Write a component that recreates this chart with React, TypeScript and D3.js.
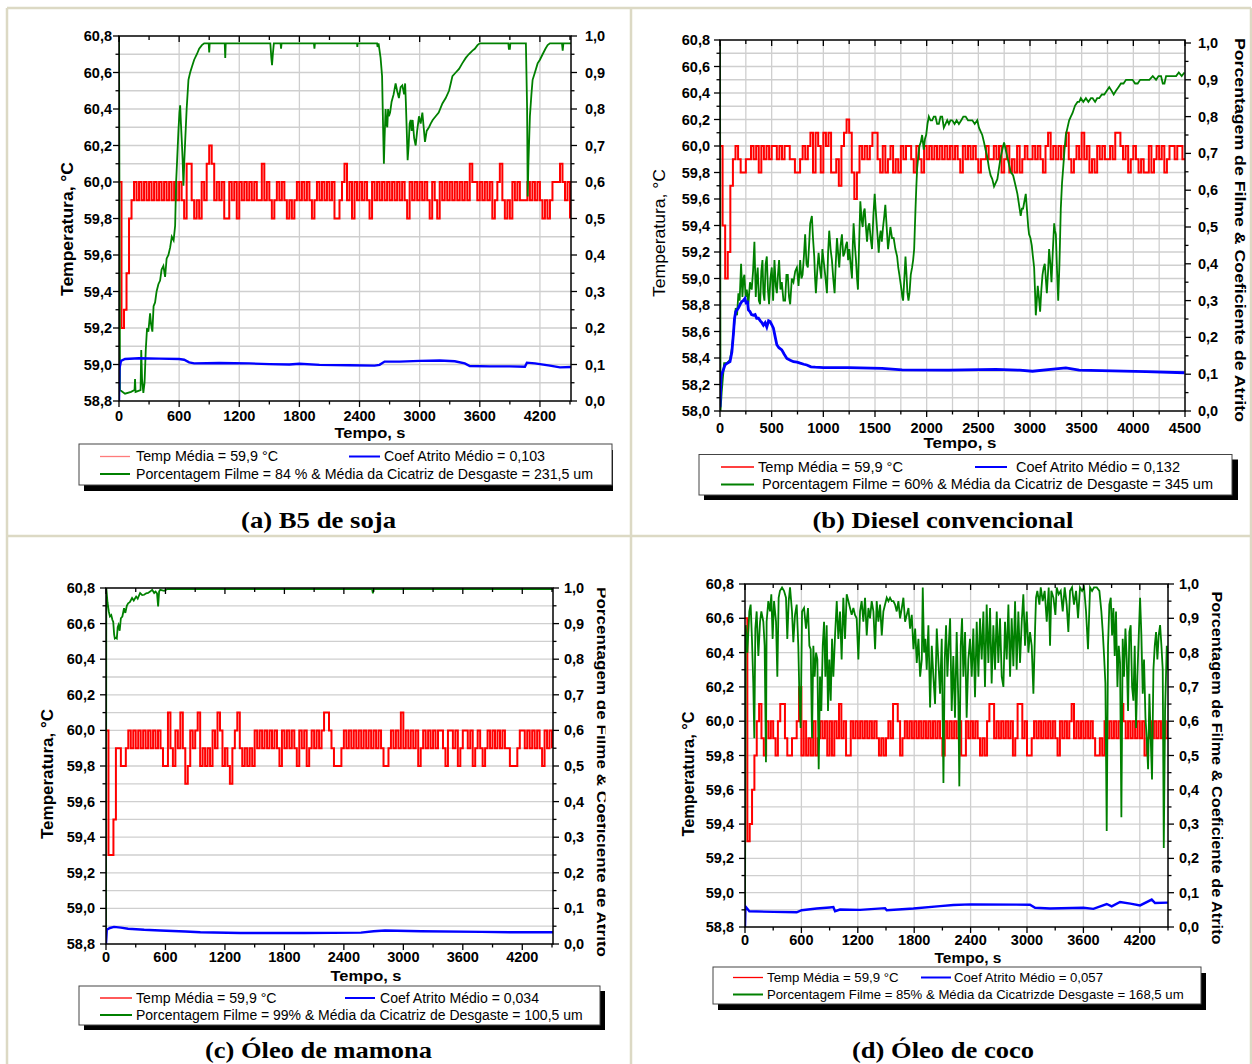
import React from "react";
import * as d3 from "d3";

// temperatura registrada a cada 25 s
const STEP = 25;

const tempA = [
  60, 59.2, 59.3, 59.5, 59.8, 59.9,
  60, 59.9, 60, 59.9, 60, 59.9, 60, 59.9, 60, 59.9, 60, 59.9, 60, 59.9, 60, 59.9, 60,
  59.9, 60, 59.9, 59.8, 60.1, 60.1, 59.9, 59.8, 59.9, 59.8, 60, 59.9, 60.1, 60.2, 60.1, 59.9, 60, 59.9,
  60, 59.8, 59.8, 60, 59.9, 60, 59.8, 60, 59.9, 60, 59.9, 60, 59.9, 60, 59.9, 59.9, 60.1, 59.9, 60, 59.9,
  59.8, 59.9, 60, 59.9, 60, 59.9, 59.8, 59.9, 59.8, 59.9, 60, 59.9, 60, 59.9, 60, 59.9, 59.8, 59.9, 60, 59.9,
  60, 59.9, 60, 59.9, 60, 59.8, 59.8, 59.9, 60, 60.1, 59.9, 60, 59.8, 60, 59.9, 60, 59.9, 60, 59.9, 59.8,
  60, 59.9, 60, 59.9, 60, 59.9, 60, 59.9, 60, 59.9, 60, 59.9, 60, 59.9, 59.8, 60, 59.9, 60, 59.9, 60,
  59.9, 60, 59.9, 59.8, 60, 59.9, 59.8, 60, 59.9, 60, 59.9, 60, 59.9, 60, 59.9, 60, 59.9, 60, 59.9, 60.1,
  60, 60, 59.9, 60, 59.9, 60, 59.9, 60, 59.8, 59.9, 60, 60.1, 59.9, 59.8, 59.9, 59.8, 60, 59.9, 60, 59.9,
  59.9, 59.9, 60, 59.9, 60, 59.9, 60, 59.9, 59.8, 59.9, 59.8, 59.9, 60, 60, 60, 60.1, 60, 59.9, 60, 59.8,
];

const tempB = [
  60, 59.4, 59, 59.2, 59.7, 59.9, 60, 59.9, 59.8, 59.8, 59.9, 59.9, 60, 59.9, 60, 59.8, 60, 59.9, 60, 59.9, 60,
  60, 59.9, 60, 59.9, 60, 60, 59.9, 59.9, 59.8, 59.8, 59.9, 60, 59.9, 60, 60.1, 59.8, 60.1, 60, 59.8, 60.1,
  60, 60.1, 59.8, 59.8, 59.9, 59.7, 60, 60.1, 60.2, 60.1, 59.8, 59.6, 59.8, 60, 59.9, 60, 59.9, 60, 60.1, 60.1,
  59.9, 59.8, 60, 59.8, 59.9, 60, 59.8, 59.9, 59.8, 60, 59.9, 60, 60, 59.9, 59.8, 60, 59.9, 59.8, 60, 59.9,
  60, 59.9, 60, 59.9, 60, 59.9, 60, 59.9, 60, 59.9, 60, 59.9, 59.8, 60, 59.9, 60, 59.9, 60, 59.9, 59.8,
  59.9, 59.9, 60, 59.9, 59.9, 60, 59.9, 60, 59.8, 59.9, 60, 59.8, 59.9, 59.8, 60, 59.8, 59.9, 60, 59.9, 59.9,
  60, 59.9, 60, 59.9, 59.8, 60, 60.1, 59.9, 60, 59.9, 60, 59.9, 60, 60.1, 59.9, 59.8, 59.9, 60, 59.9, 60.1,
  59.9, 60, 59.8, 59.9, 59.8, 60, 59.9, 60, 59.9, 59.9, 60, 59.9, 60.1, 60.1, 60, 59.9, 60, 59.8, 59.9, 60,
  59.9, 59.8, 59.9, 59.8, 59.8, 60, 59.8, 59.9, 60, 59.9, 60, 59.8, 59.9, 60, 60, 59.9, 60, 60, 59.9, 59.9,
];

const tempC = [
  60, 59.3, 59.3, 59.5, 59.9, 59.9, 59.8, 59.8, 59.9, 60, 59.9, 60, 59.9, 60, 59.9, 60, 59.9, 60, 59.9, 60, 59.9,
  60, 59.9, 59.8, 59.8, 60.1, 59.9, 59.8, 60, 59.9, 60.1, 59.9, 59.7, 59.8, 60, 59.9, 60, 60.1, 59.8, 59.9, 59.8,
  59.9, 59.8, 60, 59.9, 60.1, 60, 59.8, 59.9, 59.8, 59.7, 59.9, 60, 60.1, 59.9, 59.8, 59.9, 59.8, 59.9, 59.8, 60,
  59.9, 60, 59.9, 60, 59.9, 60, 59.9, 60, 59.9, 59.8, 60, 59.9, 60, 59.9, 60, 59.9, 59.8, 60, 59.9, 60,
  59.8, 59.9, 60, 59.9, 60, 59.9, 60, 60.1, 60.1, 60, 59.9, 59.8, 59.8, 59.8, 59.9, 60, 59.9, 60, 59.9, 60,
  59.9, 60, 59.9, 60, 59.9, 60, 59.9, 60, 59.9, 60, 59.9, 59.8, 59.8, 59.9, 60, 59.9, 60, 59.9, 60.1, 59.9,
  60, 59.9, 60, 59.9, 60, 59.8, 59.9, 60, 59.9, 60, 59.9, 60, 59.9, 60, 60, 59.9, 59.8, 60, 60, 59.9,
  60, 59.8, 59.9, 60, 60, 59.9, 60, 59.8, 59.9, 60, 59.9, 59.8, 59.9, 60, 59.9, 60, 59.9, 60, 59.9, 60,
  59.9, 59.9, 59.8, 59.8, 59.8, 59.9, 60, 60, 59.9, 60, 59.9, 60, 59.9, 60, 59.9, 59.8, 60, 59.9, 60, 59.9,
];

const tempD = [
  60.6, 59.3, 59.4, 59.6, 59.8, 60, 60.1, 59.9, 59.8, 60, 59.9, 60, 59.9, 59.8, 60, 60.1, 60.1, 59.9, 59.8, 59.8, 59.9,
  59.9, 60, 60.2, 59.8, 60, 59.8, 59.9, 59.8, 60, 59.8, 59.9, 60, 59.9, 60, 59.8, 60, 59.8, 60, 59.9, 60.1,
  59.9, 60, 59.8, 59.8, 60, 59.9, 60, 59.9, 60, 59.9, 60, 59.9, 60, 59.9, 60, 59.9, 59.8, 59.9, 59.8, 59.9,
  60, 59.9, 60.1, 60.1, 60, 59.8, 59.9, 60, 59.9, 60, 59.9, 60, 59.9, 60, 59.9, 60, 59.9, 60, 59.9, 60,
  59.9, 60, 59.9, 59.8, 60, 59.9, 60, 59.9, 60, 59.9, 60, 59.8, 59.8, 60, 59.9, 60, 59.9, 60, 59.9, 59.8,
  59.9, 59.8, 60, 60.1, 60.1, 59.9, 60, 59.9, 60, 59.9, 60, 59.9, 60, 59.8, 59.9, 60.1, 60.1, 59.9, 60, 59.8,
  59.8, 59.9, 60, 59.9, 60, 59.9, 60, 59.9, 60, 59.9, 60, 59.9, 59.8, 60, 59.9, 60, 59.9, 60, 60.1, 59.9,
  60, 59.9, 60, 59.9, 60, 59.9, 60, 59.9, 59.8, 59.8, 59.9, 59.8, 60, 59.9, 60, 59.9, 60, 59.9, 60, 60.1,
  60, 59.9, 60, 59.9, 60, 59.9, 60, 59.9, 60, 59.8, 59.9, 60, 59.9, 60, 59.9, 60, 59.9, 60, 59.9, 60,
];

// porcentagem de filme: [tempo s, fração]
const filmA = [
  [0, 1.0], [10, 0.03], [60, 0.02], [120, 0.025], [155, 0.03], [160, 0.06], [165, 0.025], [215, 0.03],
  [222, 0.14], [230, 0.06], [243, 0.022], [255, 0.05], [267, 0.14], [280, 0.2], [293, 0.19], [310, 0.24],
  [320, 0.21], [333, 0.19], [345, 0.26], [360, 0.27], [375, 0.3], [393, 0.32], [410, 0.33], [425, 0.36],
  [443, 0.37], [460, 0.34], [475, 0.39], [493, 0.4], [510, 0.42], [527, 0.45], [545, 0.44], [560, 0.48],
  [570, 0.6], [580, 0.66], [593, 0.74], [603, 0.79], [610, 0.81], [618, 0.76], [627, 0.71], [635, 0.66],
  [643, 0.59], [652, 0.66], [660, 0.71], [675, 0.8], [693, 0.88], [710, 0.9], [727, 0.915], [750, 0.935],
  [777, 0.95], [800, 0.965], [827, 0.975], [850, 0.98], [895, 0.98], [900, 0.955], [905, 0.98], [1055, 0.98],
  [1060, 0.94], [1065, 0.98], [1510, 0.98], [1520, 0.94], [1527, 0.92], [1535, 0.95], [1545, 0.98],
  [1612, 0.98], [1617, 0.965], [1622, 0.98], [1945, 0.98], [1950, 0.965], [1955, 0.98], [2375, 0.98],
  [2378, 0.97], [2381, 0.98], [2575, 0.98], [2580, 0.97], [2590, 0.98], [2600, 0.96], [2610, 0.94],
  [2625, 0.89], [2635, 0.75], [2643, 0.65], [2650, 0.72], [2660, 0.8], [2668, 0.76], [2677, 0.75],
  [2685, 0.8], [2693, 0.78], [2705, 0.79], [2720, 0.82], [2740, 0.84], [2760, 0.87], [2775, 0.85],
  [2793, 0.83], [2810, 0.86], [2827, 0.865], [2845, 0.84], [2855, 0.87], [2862, 0.82], [2870, 0.75],
  [2880, 0.66], [2890, 0.7], [2900, 0.76], [2910, 0.77], [2920, 0.74], [2930, 0.77], [2945, 0.72],
  [2960, 0.7], [2975, 0.74], [2993, 0.78], [3010, 0.76], [3027, 0.79], [3040, 0.75], [3053, 0.71],
  [3070, 0.74], [3093, 0.75], [3110, 0.76], [3130, 0.77], [3160, 0.78], [3190, 0.79], [3227, 0.815],
  [3260, 0.83], [3293, 0.85], [3310, 0.87], [3327, 0.89], [3360, 0.9], [3393, 0.91], [3425, 0.925],
  [3460, 0.94], [3490, 0.95], [3527, 0.96], [3550, 0.965], [3577, 0.975], [3600, 0.98], [3885, 0.98],
  [3890, 0.965], [3900, 0.965], [3905, 0.98], [4060, 0.98], [4072, 0.8], [4078, 0.56], [4085, 0.65],
  [4100, 0.78], [4115, 0.84], [4127, 0.88], [4150, 0.9], [4177, 0.925], [4200, 0.935], [4227, 0.95],
  [4255, 0.965], [4277, 0.975], [4300, 0.98], [4420, 0.98], [4427, 0.96], [4434, 0.98], [4510, 0.98],
];

const filmB = [
  [0, 1.0], [5, 0.0], [16, 0.05], [40, 0.13], [70, 0.13], [97, 0.14], [115, 0.17], [130, 0.21], [152, 0.28],
  [165, 0.26], [178, 0.32], [190, 0.3], [204, 0.4], [217, 0.31], [227, 0.36], [236, 0.37], [248, 0.31],
  [259, 0.33], [275, 0.29], [290, 0.35], [307, 0.33], [320, 0.38], [333, 0.46], [346, 0.31], [355, 0.36],
  [365, 0.39], [376, 0.3], [388, 0.29], [400, 0.38], [411, 0.41], [420, 0.32], [430, 0.3], [442, 0.4],
  [453, 0.42], [464, 0.33], [475, 0.29], [488, 0.36], [501, 0.39], [514, 0.3], [527, 0.41], [540, 0.34],
  [550, 0.32], [561, 0.37], [572, 0.41], [585, 0.33], [598, 0.35], [614, 0.3], [630, 0.3], [643, 0.37],
  [656, 0.37], [668, 0.31], [679, 0.29], [695, 0.36], [711, 0.35], [728, 0.38], [744, 0.39], [760, 0.34],
  [776, 0.41], [788, 0.36], [799, 0.37], [812, 0.42], [824, 0.48], [837, 0.4], [850, 0.39], [862, 0.45],
  [873, 0.51], [889, 0.53], [900, 0.47], [912, 0.42], [920, 0.36], [928, 0.32], [941, 0.38], [954, 0.43],
  [967, 0.39], [980, 0.36], [991, 0.44], [1002, 0.41], [1018, 0.37], [1035, 0.32], [1046, 0.43],
  [1057, 0.49], [1070, 0.44], [1083, 0.41], [1096, 0.36], [1109, 0.32], [1120, 0.4], [1132, 0.47],
  [1143, 0.43], [1154, 0.39], [1167, 0.45], [1180, 0.48], [1193, 0.42], [1206, 0.43], [1218, 0.45],
  [1229, 0.46], [1240, 0.41], [1251, 0.44], [1264, 0.4], [1277, 0.36], [1285, 0.45], [1293, 0.51],
  [1305, 0.45], [1316, 0.41], [1326, 0.36], [1335, 0.33], [1346, 0.45], [1358, 0.57], [1370, 0.52],
  [1381, 0.5], [1390, 0.54], [1400, 0.55], [1412, 0.5], [1423, 0.46], [1434, 0.5], [1445, 0.51],
  [1458, 0.47], [1471, 0.44], [1484, 0.53], [1497, 0.59], [1506, 0.55], [1516, 0.51], [1526, 0.47],
  [1536, 0.43], [1545, 0.47], [1555, 0.49], [1566, 0.46], [1578, 0.5], [1590, 0.53], [1600, 0.56],
  [1613, 0.5], [1626, 0.44], [1638, 0.47], [1649, 0.5], [1665, 0.47], [1681, 0.47], [1697, 0.44],
  [1714, 0.42], [1725, 0.39], [1736, 0.37], [1746, 0.35], [1756, 0.33], [1764, 0.31], [1772, 0.3],
  [1784, 0.36], [1795, 0.42], [1805, 0.37], [1814, 0.32], [1824, 0.3], [1834, 0.32], [1846, 0.37],
  [1859, 0.39], [1869, 0.41], [1879, 0.44], [1886, 0.5], [1892, 0.55], [1900, 0.61], [1908, 0.66],
  [1918, 0.69], [1930, 0.72], [1943, 0.73], [1956, 0.75], [1964, 0.73], [1972, 0.71], [1984, 0.74],
  [1995, 0.75], [2008, 0.78], [2021, 0.8], [2037, 0.79], [2053, 0.79], [2069, 0.8], [2085, 0.8],
  [2101, 0.78], [2118, 0.78], [2134, 0.8], [2150, 0.8], [2166, 0.77], [2183, 0.78], [2199, 0.79],
  [2215, 0.78], [2230, 0.79], [2248, 0.79], [2270, 0.78], [2290, 0.79], [2312, 0.78], [2335, 0.79],
  [2355, 0.8], [2377, 0.8], [2400, 0.79], [2420, 0.79], [2442, 0.79], [2465, 0.78], [2490, 0.79],
  [2506, 0.77], [2522, 0.76], [2538, 0.75], [2555, 0.73], [2570, 0.71], [2587, 0.69], [2603, 0.66],
  [2619, 0.64], [2635, 0.63], [2652, 0.61], [2668, 0.62], [2684, 0.63], [2700, 0.66], [2716, 0.69],
  [2732, 0.71], [2749, 0.73], [2765, 0.71], [2781, 0.69], [2797, 0.67], [2813, 0.65], [2837, 0.64],
  [2862, 0.61], [2878, 0.59], [2894, 0.56], [2910, 0.53], [2922, 0.55], [2933, 0.55], [2946, 0.57],
  [2959, 0.59], [2967, 0.56], [2975, 0.53], [2983, 0.5], [2991, 0.48], [3004, 0.47], [3017, 0.45],
  [3028, 0.42], [3040, 0.39], [3048, 0.33], [3056, 0.26], [3066, 0.3], [3075, 0.34], [3086, 0.31],
  [3098, 0.27], [3110, 0.33], [3121, 0.37], [3132, 0.39], [3143, 0.4], [3153, 0.36], [3163, 0.32],
  [3175, 0.38], [3185, 0.44], [3197, 0.4], [3208, 0.35], [3220, 0.43], [3234, 0.51], [3242, 0.49],
  [3250, 0.48], [3262, 0.38], [3273, 0.3], [3285, 0.4], [3298, 0.55], [3310, 0.62], [3321, 0.66],
  [3334, 0.71], [3347, 0.75], [3363, 0.77], [3379, 0.79], [3395, 0.8], [3412, 0.81], [3436, 0.83],
  [3460, 0.84], [3476, 0.84], [3492, 0.85], [3516, 0.84], [3541, 0.85], [3565, 0.84], [3590, 0.85],
  [3606, 0.85], [3630, 0.84], [3650, 0.85], [3670, 0.85], [3695, 0.86], [3719, 0.86], [3743, 0.87],
  [3767, 0.88], [3790, 0.87], [3810, 0.86], [3832, 0.87], [3856, 0.88], [3880, 0.89], [3905, 0.89],
  [3929, 0.9], [3960, 0.9], [3993, 0.9], [4017, 0.89], [4042, 0.89], [4066, 0.9], [4091, 0.9],
  [4123, 0.9], [4155, 0.9], [4188, 0.91], [4220, 0.9], [4244, 0.91], [4268, 0.91], [4285, 0.89],
  [4301, 0.89], [4317, 0.91], [4333, 0.91], [4360, 0.91], [4387, 0.91], [4414, 0.91], [4440, 0.92],
  [4468, 0.91], [4495, 0.92],
];

const filmC = [
  [0, 0], [3, 1.0], [15, 0.96], [28, 0.934], [40, 0.92], [53, 0.924], [65, 0.91], [73, 0.905], [82, 0.87],
  [89, 0.858], [100, 0.86], [109, 0.858], [118, 0.89], [126, 0.896], [138, 0.88], [150, 0.915], [165, 0.92],
  [182, 0.943], [195, 0.93], [210, 0.95], [223, 0.957], [240, 0.96], [263, 0.972], [280, 0.965],
  [304, 0.976], [320, 0.97], [344, 0.986], [365, 0.98], [385, 0.981], [405, 0.985], [425, 0.986],
  [445, 0.99], [466, 0.995], [486, 0.986], [500, 0.99], [515, 0.985], [526, 0.948], [536, 0.99],
  [547, 0.995], [587, 0.992], [620, 0.997], [668, 0.997], [2685, 0.997], [2693, 0.985], [2700, 0.997],
  [4510, 0.997],
];

const filmD = [
  [0, 0.02], [8, 0.88], [25, 0.8], [46, 0.92], [60, 0.94], [74, 0.84], [88, 0.71], [99, 0.55], [110, 0.87],
  [124, 0.92], [142, 0.79], [160, 0.89], [174, 0.92], [195, 0.89], [209, 0.82], [223, 0.48], [230, 0.89],
  [248, 0.95], [266, 0.92], [280, 0.97], [294, 0.84], [309, 0.95], [330, 0.89], [344, 0.73], [358, 0.96],
  [372, 0.98], [394, 0.99], [415, 0.98], [436, 0.96], [450, 0.84], [465, 0.95], [479, 0.99], [500, 0.92],
  [514, 0.83], [532, 0.91], [550, 0.94], [567, 0.82], [578, 0.68], [592, 0.58], [607, 0.92], [628, 0.93],
  [649, 0.87], [670, 0.93], [685, 0.82], [699, 0.81], [713, 0.55], [727, 0.82], [741, 0.73], [756, 0.8],
  [770, 0.78], [784, 0.46], [798, 0.73], [812, 0.63], [827, 0.82], [841, 0.89], [855, 0.73], [869, 0.88],
  [883, 0.63], [897, 0.78], [912, 0.66], [926, 0.84], [940, 0.73], [958, 0.85], [976, 0.95], [993, 0.84],
  [1011, 0.92], [1028, 0.78], [1046, 0.96], [1064, 0.84], [1082, 0.97], [1100, 0.95], [1117, 0.93],
  [1135, 0.91], [1153, 0.93], [1170, 0.91], [1188, 0.9], [1206, 0.78], [1224, 0.92], [1241, 0.95],
  [1259, 0.89], [1277, 0.96], [1295, 0.85], [1313, 0.93], [1330, 0.9], [1348, 0.95], [1366, 0.92],
  [1384, 0.81], [1401, 0.95], [1419, 0.89], [1437, 0.94], [1455, 0.85], [1472, 0.92], [1490, 0.94],
  [1508, 0.96], [1526, 0.95], [1543, 0.96], [1561, 0.95], [1579, 0.95], [1596, 0.94], [1614, 0.92],
  [1632, 0.95], [1650, 0.9], [1668, 0.93], [1685, 0.96], [1703, 0.89], [1721, 0.91], [1739, 0.93],
  [1756, 0.87], [1774, 0.91], [1792, 0.81], [1810, 0.87], [1827, 0.77], [1845, 0.84], [1863, 0.73],
  [1881, 0.78], [1891, 0.99], [1905, 0.8], [1919, 0.84], [1933, 0.75], [1951, 0.88], [1969, 0.64],
  [1987, 0.82], [2004, 0.73], [2022, 0.65], [2040, 0.87], [2058, 0.77], [2075, 0.68], [2093, 0.84],
  [2111, 0.42], [2125, 0.78], [2139, 0.88], [2153, 0.73], [2167, 0.82], [2182, 0.9], [2199, 0.63],
  [2216, 0.79], [2234, 0.61], [2252, 0.86], [2270, 0.65], [2280, 0.41], [2295, 0.82], [2309, 0.9],
  [2323, 0.73], [2341, 0.86], [2358, 0.61], [2376, 0.78], [2394, 0.84], [2412, 0.73], [2429, 0.87],
  [2447, 0.67], [2465, 0.89], [2483, 0.73], [2500, 0.9], [2518, 0.78], [2536, 0.92], [2553, 0.7],
  [2571, 0.94], [2589, 0.77], [2607, 0.93], [2624, 0.71], [2642, 0.88], [2660, 0.75], [2678, 0.92],
  [2695, 0.77], [2713, 0.9], [2731, 0.73], [2749, 0.7], [2766, 0.89], [2784, 0.78], [2802, 0.94],
  [2820, 0.73], [2837, 0.9], [2855, 0.76], [2873, 0.95], [2890, 0.75], [2908, 0.92], [2926, 0.77],
  [2944, 0.89], [2961, 0.97], [2979, 0.82], [2997, 0.92], [3015, 0.8], [3032, 0.86], [3050, 0.82],
  [3068, 0.68], [3086, 0.87], [3096, 0.96], [3110, 0.98], [3132, 0.94], [3146, 0.99], [3167, 0.95],
  [3188, 0.98], [3210, 0.89], [3231, 0.99], [3245, 0.82], [3259, 0.98], [3281, 0.96], [3302, 0.91],
  [3316, 0.99], [3337, 0.97], [3359, 0.98], [3380, 0.92], [3401, 0.99], [3422, 0.94], [3440, 0.86],
  [3458, 0.98], [3479, 0.99], [3500, 0.94], [3522, 0.98], [3543, 0.9], [3564, 0.99], [3586, 0.98],
  [3607, 0.99], [3628, 0.92], [3649, 0.81], [3671, 0.99], [3692, 0.98], [3713, 0.99], [3742, 0.99],
  [3770, 0.98], [3791, 0.92], [3806, 0.86], [3820, 0.79], [3834, 0.71], [3848, 0.28], [3862, 0.82],
  [3876, 0.94], [3891, 0.96], [3905, 0.85], [3919, 0.93], [3933, 0.79], [3947, 0.92], [3962, 0.7],
  [3976, 0.82], [3990, 0.77], [4004, 0.32], [4018, 0.84], [4032, 0.73], [4047, 0.87], [4061, 0.78],
  [4075, 0.63], [4089, 0.86], [4103, 0.88], [4118, 0.7], [4132, 0.66], [4146, 0.82], [4160, 0.58],
  [4174, 0.73], [4189, 0.85], [4203, 0.96], [4217, 0.85], [4231, 0.68], [4245, 0.78], [4260, 0.61],
  [4274, 0.55], [4288, 0.46], [4302, 0.68], [4316, 0.55], [4330, 0.43], [4345, 0.75], [4359, 0.82],
  [4373, 0.86], [4387, 0.78], [4401, 0.85], [4416, 0.88], [4430, 0.82], [4444, 0.75], [4455, 0.23],
  [4469, 0.63], [4487, 0.82], [4500, 0.75],
];

// coeficiente de atrito: [tempo s, valor]
const coefA = [
  [0, 0], [5, 0.09], [20, 0.11], [60, 0.115], [200, 0.117], [400, 0.116], [600, 0.115], [650, 0.113],
  [700, 0.106], [750, 0.103], [1000, 0.104], [1300, 0.103], [1500, 0.101], [1700, 0.1], [1800, 0.102],
  [2000, 0.099], [2300, 0.098], [2550, 0.097], [2600, 0.099], [2650, 0.108], [2800, 0.108], [3000, 0.11],
  [3200, 0.111], [3350, 0.109], [3450, 0.103], [3500, 0.096], [3700, 0.095], [3900, 0.095], [4050, 0.094],
  [4070, 0.105], [4150, 0.103], [4300, 0.097], [4400, 0.092], [4510, 0.093],
];

const coefB = [
  [0, 0.01], [10, 0.09], [16, 0.1], [30, 0.11], [48, 0.125], [70, 0.13], [97, 0.134], [115, 0.16],
  [130, 0.21], [140, 0.25], [152, 0.27], [165, 0.275], [178, 0.28], [195, 0.29], [210, 0.297], [225, 0.3],
  [242, 0.306], [255, 0.29], [265, 0.3], [275, 0.275], [290, 0.27], [305, 0.262], [323, 0.26],
  [340, 0.262], [355, 0.252], [372, 0.252], [390, 0.245], [405, 0.24], [420, 0.233], [437, 0.24],
  [453, 0.228], [470, 0.245], [485, 0.243], [500, 0.235], [517, 0.225], [535, 0.2], [550, 0.18],
  [570, 0.172], [598, 0.166], [620, 0.155], [647, 0.143], [680, 0.138], [711, 0.134], [745, 0.133],
  [776, 0.13], [810, 0.127], [840, 0.125], [880, 0.12], [922, 0.119], [1000, 0.118], [1245, 0.118],
  [1568, 0.116], [1762, 0.112], [2215, 0.111], [2668, 0.113], [2900, 0.111], [3024, 0.108], [3200, 0.113],
  [3347, 0.117], [3476, 0.111], [3800, 0.109], [4123, 0.107], [4495, 0.104],
];

const coefC = [
  [0, 0], [8, 0.04], [40, 0.045], [81, 0.048], [150, 0.046], [223, 0.043], [385, 0.04], [547, 0.038],
  [800, 0.035], [952, 0.033], [1357, 0.031], [2000, 0.031], [2572, 0.032], [2700, 0.036], [2815, 0.038],
  [3180, 0.036], [3787, 0.034], [4100, 0.033], [4510, 0.033],
];

const coefD = [
  [0, 0], [5, 0.06], [46, 0.046], [302, 0.044], [550, 0.043], [603, 0.049], [763, 0.054], [900, 0.057],
  [940, 0.058], [958, 0.046], [1011, 0.051], [1224, 0.05], [1490, 0.055], [1508, 0.049], [1792, 0.054],
  [2075, 0.061], [2217, 0.064], [2400, 0.066], [3032, 0.065], [3086, 0.056], [3245, 0.054], [3600, 0.056],
  [3706, 0.053], [3848, 0.067], [3901, 0.06], [3990, 0.073], [4100, 0.068], [4203, 0.063], [4327, 0.08],
  [4362, 0.07], [4500, 0.071],
];

const tempTicks588 = [58.8, 59.0, 59.2, 59.4, 59.6, 59.8, 60.0, 60.2, 60.4, 60.6, 60.8];
const tempTicks580 = [58.0, 58.2, 58.4, 58.6, 58.8, 59.0, 59.2, 59.4, 59.6, 59.8, 60.0, 60.2, 60.4, 60.6, 60.8];
const coefTicks = [0, 0.1, 0.2, 0.3, 0.4, 0.5, 0.6, 0.7, 0.8, 0.9, 1.0];
const timeTicks600 = [0, 600, 1200, 1800, 2400, 3000, 3600, 4200];
const timeTicks500 = [0, 500, 1000, 1500, 2000, 2500, 3000, 3500, 4000, 4500];

const TEMP_LBL = "Temp Média = 59,9 °C";
const coefLabels = ["Coef Atrito Médio = 0,103", "Coef Atrito Médio = 0,132", "Coef Atrito Médio = 0,034", "Coef Atrito Médio = 0,057"];
const filmLabels = [
  "Porcentagem Filme = 84 % & Média da Cicatriz de Desgaste = 231,5 um",
  "Porcentagem Filme = 60% & Média da Cicatriz de Desgaste = 345 um",
  "Porcentagem Filme = 99% & Média da Cicatriz de Desgaste = 100,5 um",
  "Porcentagem Filme = 85% & Média da Cicatrizde Desgaste = 168,5 um",
];
const captions = ["(a) B5 de soja", "(b) Diesel convencional", "(c) Óleo de mamona", "(d) Óleo de coco"];
const Y_TITLE = "Temperatura, °C";
const R_TITLE = "Porcentagem de Filme & Coeficiente de Atrito";

const SANS = "Liberation Sans, Arial, Helvetica, sans-serif";
const SERIF = "Liberation Serif, Times New Roman, Times, serif";

const panels = [
  {
    id: "a", l: 119, r: 571, t: 36, b: 401, rTop: 36, xMax: 4510, tMin: 58.8, tMax: 60.8,
    tTicks: tempTicks588, xTicks: timeTicks600, xMinor: 300, vGrid: 600,
    temp: tempA, film: filmA, coef: coefA, lPad: 7, rPad: 14, bPad: 15,
    xTitle: { x: 370, y: 432, len: 71 }, yTitle: { x: 67, y: 229, len: 134, bold: true },
    rTitle: null,
    legend: { x: 79, y: 444, w: 533, h: 41, sdx: 1, sdy: 6, r1: 456.5, r2: 474, red: [100, 130], blue: [349, 380], tx1: 136, tx2: 384, tx3: 136, l1: 142, l2: 161, l3: 457, fs: 14, redColor: "#ff7b7b" },
    cap: { x: 318.5, y: 528, len: 155 },
  },
  {
    id: "b", l: 720, r: 1185, t: 40, b: 411, rTop: 43, xMax: 4500, tMin: 58.0, tMax: 60.8,
    tTicks: tempTicks580, xTicks: timeTicks500, xMinor: 250, vGrid: 250,
    temp: tempB, film: filmB, coef: coefB, lPad: 10, rPad: 13, bPad: 17,
    xTitle: { x: 960, y: 442, len: 73 }, yTitle: { x: 659, y: 233, len: 128, bold: false },
    rTitle: { x: 1240, y: 230, len: 384, fs: 15.5, clip: null },
    legend: { x: 699, y: 454.5, w: 533, h: 40.5, sdx: 6, sdy: 5, r1: 467, r2: 484.5, red: [721, 754], blue: [975, 1007], tx1: 758, tx2: 1016, tx3: 762, l1: 145, l2: 164, l3: 451, fs: 14, redColor: "#ff0000" },
    cap: { x: 943, y: 528, len: 261 },
  },
  {
    id: "c", l: 106, r: 553, t: 588, b: 944, rTop: 588, xMax: 4510, tMin: 58.8, tMax: 60.8,
    tTicks: tempTicks588, xTicks: timeTicks600, xMinor: 300, vGrid: 0,
    temp: tempC, film: filmC, coef: coefC, lPad: 11, rPad: 11, bPad: 13,
    xTitle: { x: 366, y: 975.5, len: 71 }, yTitle: { x: 47, y: 774, len: 130, bold: true },
    rTitle: { x: 602.5, y: 772, len: 370, fs: 15, clip: 605.5 },
    legend: { x: 79, y: 986, w: 521, h: 39, sdx: 5, sdy: 5, r1: 998, r2: 1015, red: [100, 132], blue: [345, 375], tx1: 136, tx2: 380, tx3: 136, l1: 140.6, l2: 159, l3: 446.6, fs: 14, redColor: "#ff0000" },
    cap: { x: 318.5, y: 1058, len: 227 },
  },
  {
    id: "d", l: 745, r: 1168, t: 584, b: 927, rTop: 584, xMax: 4500, tMin: 58.8, tMax: 60.8,
    tTicks: tempTicks588, xTicks: timeTicks600, xMinor: 300, vGrid: 600,
    temp: tempD, film: filmD, coef: coefD, lPad: 11, rPad: 11, bPad: 13,
    xTitle: { x: 968, y: 957, len: 67 }, yTitle: { x: 688, y: 774, len: 125, bold: true },
    rTitle: { x: 1217, y: 768, len: 353, fs: 14.5, clip: null },
    legend: { x: 713, y: 967, w: 488, h: 37, sdx: 5, sdy: 6, r1: 977.5, r2: 994.5, red: [733, 763], blue: [921, 951], tx1: 767, tx2: 954, tx3: 767, l1: 131.7, l2: 149, l3: 416.6, fs: 13, redColor: "#ff0000" },
    cap: { x: 943, y: 1058, len: 182 },
  },
];

const fmt1 = (v) => d3.format(".1f")(v).replace(".", ",");

function Panel({ p, idx }) {
  const x = d3.scaleLinear().domain([0, p.xMax]).range([p.l, p.r]);
  const yT = d3.scaleLinear().domain([p.tMin, p.tMax]).range([p.b, p.t]);
  const yR = d3.scaleLinear().domain([0, 1]).range([p.b, p.rTop]);

  const tempPath = d3.line().x((_, i) => x(i * STEP)).y((d) => yT(d)).curve(d3.curveStepAfter)(p.temp);
  const pair = d3.line().x((d) => x(d[0])).y((d) => yR(d[1]));

  const tMinor = d3.range(Math.round(p.tMin * 10), Math.round(p.tMax * 10) + 1).map((k) => k / 10);
  const xMinor = d3.range(0, p.xMax + 1, p.xMinor);
  const rMinor = d3.range(0, 21).map((k) => k / 20);
  const vGrid = p.vGrid ? d3.range(p.vGrid, p.xMax - 1, p.vGrid) : [];
  const clip = `plot-${p.id}`;
  const isMajorT = (v) => p.tTicks.some((m) => Math.abs(m - v) < 1e-6);
  const isMajorX = (v) => p.xTicks.includes(v);
  const lg = p.legend;

  return (
    <g>
      <defs>
        <clipPath id={clip}>
          <rect x={p.l} y={p.t} width={p.r - p.l} height={p.b - p.t} />
        </clipPath>
        {p.rTitle && p.rTitle.clip ? (
          <clipPath id={`rt-${p.id}`}>
            <rect x={0} y={0} width={p.rTitle.clip} height={1064} />
          </clipPath>
        ) : null}
      </defs>

      {/* grade */}
      {tMinor.slice(1, -1).map((v) => (
        <line key={`hg${v}`} x1={p.l} x2={p.r} y1={yT(v)} y2={yT(v)} stroke="#cfcfcf" strokeWidth={1.3} />
      ))}
      {vGrid.map((v) => (
        <line key={`vg${v}`} x1={x(v)} x2={x(v)} y1={p.t} y2={p.b} stroke="#cfcfcf" strokeWidth={1.3} />
      ))}

      {/* séries */}
      <g clipPath={`url(#${clip})`}>
        <path d={tempPath} fill="none" stroke="#ff0000" strokeWidth={2} />
        <path d={pair(p.film)} fill="none" stroke="#008000" strokeWidth={1.8} />
        <path d={pair(p.coef)} fill="none" stroke="#0000ff" strokeWidth={p.id === "b" ? 2.8 : 2.4} />
      </g>

      {/* moldura */}
      <rect x={p.l} y={p.t} width={p.r - p.l} height={p.b - p.t} fill="none" stroke="#000" strokeWidth={1.5} />

      {/* eixo esquerdo */}
      {tMinor.map((v) => {
        const major = isMajorT(v);
        return <line key={`lt${v}`} x1={p.l - (major ? 6 : 3.5)} x2={p.l} y1={yT(v)} y2={yT(v)} stroke="#000" strokeWidth={1.3} />;
      })}
      {p.tTicks.map((v) => (
        <text key={`ll${v}`} x={p.l - p.lPad} y={yT(v) + 5} textAnchor="end" fontFamily={SANS} fontWeight="bold" fontSize={14.5}>
          {fmt1(v)}
        </text>
      ))}

      {/* eixo direito */}
      {rMinor.map((v, i) => (
        <line key={`rt${i}`} x1={p.r} x2={p.r + (i % 2 === 0 ? 6 : 3.5)} y1={yR(v)} y2={yR(v)} stroke="#000" strokeWidth={1.3} />
      ))}
      {coefTicks.map((v) => (
        <text key={`rl${v}`} x={p.r + p.rPad} y={yR(v) + 5} textAnchor="start" fontFamily={SANS} fontWeight="bold" fontSize={14.5}>
          {fmt1(v)}
        </text>
      ))}

      {/* eixo inferior e superior */}
      {xMinor.map((v) => {
        const major = isMajorX(v);
        return (
          <g key={`xt${v}`}>
            <line x1={x(v)} x2={x(v)} y1={p.b} y2={p.b + (major ? 6 : 3.5)} stroke="#000" strokeWidth={1.3} />
            <line x1={x(v)} x2={x(v)} y1={p.t} y2={p.t + (major ? 6 : 4)} stroke="#000" strokeWidth={1.3} />
          </g>
        );
      })}
      {p.xTicks.map((v) => (
        <text key={`xl${v}`} x={x(v)} y={p.b + p.bPad + 5} textAnchor="middle" fontFamily={SANS} fontWeight="bold" fontSize={14.5}>
          {v}
        </text>
      ))}

      {/* títulos */}
      <text x={p.xTitle.x} y={p.xTitle.y + 5.5} textAnchor="middle" fontFamily={SANS} fontWeight="bold" fontSize={15.5}
        textLength={p.xTitle.len} lengthAdjust="spacingAndGlyphs">
        Tempo, s
      </text>
      <text transform={`translate(${p.yTitle.x + 6},${p.yTitle.y}) rotate(-90)`} textAnchor="middle" fontFamily={SANS}
        fontWeight={p.yTitle.bold ? "bold" : "normal"} fontSize={p.yTitle.bold ? 16 : 17}
        textLength={p.yTitle.len} lengthAdjust="spacingAndGlyphs">
        {Y_TITLE}
      </text>
      {p.rTitle ? (
        <g clipPath={p.rTitle.clip ? `url(#rt-${p.id})` : undefined}>
          <text transform={`translate(${p.rTitle.x - 5.5},${p.rTitle.y}) rotate(90)`} textAnchor="middle" fontFamily={SANS}
            fontWeight="bold" fontSize={p.rTitle.fs} textLength={p.rTitle.len} lengthAdjust="spacingAndGlyphs">
            {R_TITLE}
          </text>
        </g>
      ) : null}

      {/* legenda */}
      <rect x={lg.x + 5} y={lg.y + lg.sdy} width={lg.w + lg.sdx - 5} height={lg.h} fill="#000" />
      <rect x={lg.x} y={lg.y} width={lg.w} height={lg.h} fill="#fff" stroke="#444" strokeWidth={1} />
      <line x1={lg.red[0]} x2={lg.red[1]} y1={lg.r1} y2={lg.r1} stroke={lg.redColor} strokeWidth={1.3} />
      <line x1={lg.blue[0]} x2={lg.blue[1]} y1={lg.r1} y2={lg.r1} stroke="#0000ff" strokeWidth={2} />
      <line x1={lg.red[0]} x2={lg.red[1]} y1={lg.r2} y2={lg.r2} stroke="#008000" strokeWidth={2} />
      <text x={lg.tx1} y={lg.r1 + 4.8} fontFamily={SANS} fontSize={lg.fs} textLength={lg.l1} lengthAdjust="spacingAndGlyphs">{TEMP_LBL}</text>
      <text x={lg.tx2} y={lg.r1 + 4.8} fontFamily={SANS} fontSize={lg.fs} textLength={lg.l2} lengthAdjust="spacingAndGlyphs">{coefLabels[idx]}</text>
      <text x={lg.tx3} y={lg.r2 + 4.8} fontFamily={SANS} fontSize={lg.fs} textLength={lg.l3} lengthAdjust="spacingAndGlyphs">{filmLabels[idx]}</text>

      {/* legenda da figura */}
      <text x={p.cap.x} y={p.cap.y} textAnchor="middle" fontFamily={SERIF} fontWeight="bold" fontSize={23}
        textLength={p.cap.len} lengthAdjust="spacingAndGlyphs">
        {captions[idx]}
      </text>
    </g>
  );
}

export default function App() {
  return (
    <svg width={1252} height={1064} style={{ position: "absolute", left: 0, top: 0, background: "#fff" }}>
      <rect x={0} y={0} width={1252} height={1064} fill="#fff" />
      {/* bordas da tabela */}
      <g stroke="#dcd9c4" strokeWidth={2.5}>
        <line x1={7} x2={7} y1={8} y2={1064} />
        <line x1={631} x2={631} y1={8} y2={1064} />
        <line x1={1251} x2={1251} y1={8} y2={1064} />
        <line x1={7} x2={1251} y1={8} y2={8} />
        <line x1={7} x2={1251} y1={536} y2={536} />
      </g>
      {panels.map((p, i) => (
        <Panel key={p.id} p={p} idx={i} />
      ))}
    </svg>
  );
}
